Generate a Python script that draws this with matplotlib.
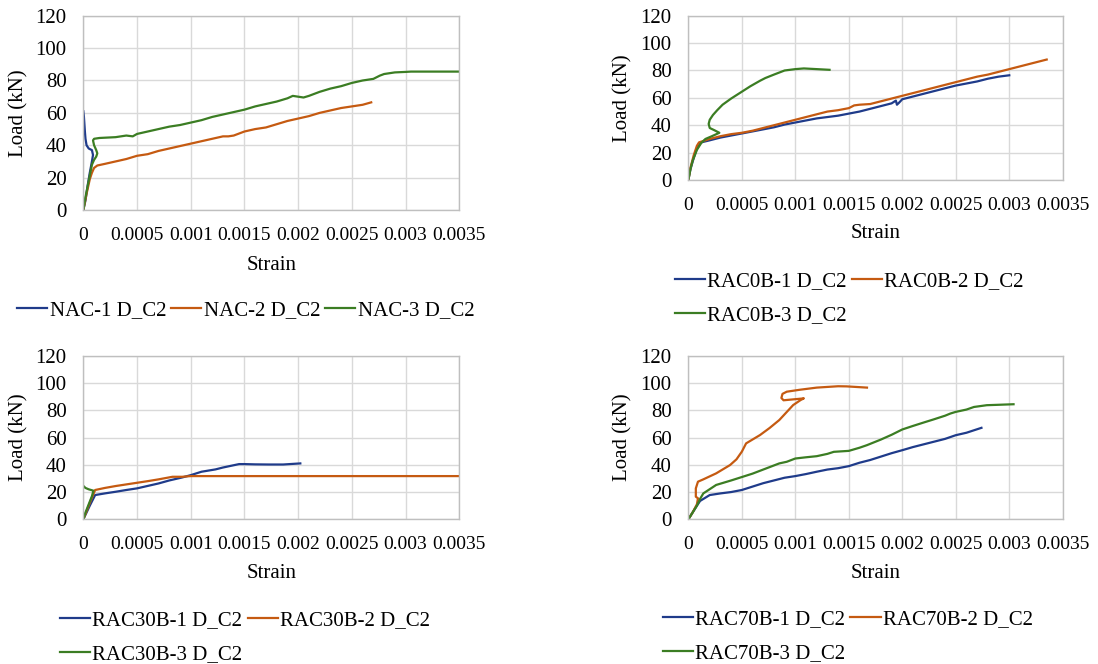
import numpy as np
import matplotlib
matplotlib.use("Agg")
import matplotlib.pyplot as plt

plt.rcParams['font.family'] = ['Liberation Serif', 'DejaVu Serif']
plt.rcParams['font.size'] = 15

# ------------------ Data ------------------

# NAC
nac1_strain = [0, 0.00002, 0.00004, 0.00006, 0.00008, 0.00009, 0.00008, 0.00005, 0.00003, 0.00002,
               0.000015, 0.00001, 0.000005, 0.0]
nac1_load = [0, 6, 15, 23, 30, 34, 37, 38, 40, 44, 48, 53, 58, 61]

nac2_strain = [0, 0.00003, 0.00006, 0.00008, 0.0001, 0.00013, 0.0002, 0.0003, 0.0004, 0.0005, 0.0006,
               0.0007, 0.0008, 0.0009, 0.001, 0.0011, 0.0012, 0.0013, 0.00135, 0.0014, 0.0015, 0.0016,
               0.0017, 0.0018, 0.0019, 0.002, 0.0021, 0.0022, 0.0023, 0.0024, 0.0025, 0.0026, 0.00268]
nac2_load = [0, 10, 19, 23, 26, 27.5, 28.5, 30, 31.5, 33.5, 34.5, 36.5, 38, 39.5, 41, 42.5, 44, 45.5,
             45.5, 46, 48.5, 50, 51, 53, 55, 56.5, 58, 60, 61.5, 63, 64, 65, 66.5]

nac3_strain = [0, 0.00002, 0.00005, 0.00008, 0.0001, 0.00012, 0.00013, 0.00012, 0.0001, 0.00009, 0.0001,
               0.00015, 0.0003, 0.0004, 0.00046, 0.0005, 0.0006, 0.0007, 0.0008, 0.0009, 0.001, 0.0011,
               0.0012, 0.0013, 0.0014, 0.0015, 0.0016, 0.0017, 0.0018, 0.0019, 0.00195, 0.002, 0.00205,
               0.0021, 0.0022, 0.0023, 0.0024, 0.0025, 0.0026, 0.0027, 0.00276, 0.0028, 0.0029, 0.003,
               0.00305, 0.0035]
nac3_load = [0, 8, 18, 28, 31, 33, 35, 37, 40, 43, 44, 44.5, 45, 46, 45.5, 47, 48.5, 50, 51.5, 52.5, 54,
             55.5, 57.5, 59, 60.5, 62, 64, 65.5, 67, 69, 70.5, 70, 69.5, 70.5, 73, 75, 76.5, 78.5, 80,
             81, 83, 84, 85, 85.3, 85.5, 85.5]

# RAC0B
rac0b1_strain = [0, 0.00002, 0.00005, 0.00008, 0.00012, 0.0002, 0.0003, 0.0004, 0.0005, 0.0006, 0.0007,
                 0.0008, 0.0009, 0.001, 0.0011, 0.0012, 0.0013, 0.0014, 0.0015, 0.0016, 0.0017, 0.0018,
                 0.0019, 0.00194, 0.00195, 0.00197, 0.002, 0.0021, 0.0022, 0.0023, 0.0024, 0.0025,
                 0.0026, 0.0027, 0.0028, 0.0029, 0.003]
rac0b1_load = [0, 8, 16, 23, 27.5, 29, 31, 32.5, 34, 35.5, 37, 38.5, 40.5, 42, 43.5, 45, 46, 47, 48.5,
               50, 52, 54, 56, 58, 55, 56.5, 59, 61, 63, 65, 67, 69, 70.5, 72, 74, 75.5, 76.5]

rac0b2_strain = [0, 0.00002, 0.00005, 0.00008, 0.0001, 0.0002, 0.0003, 0.0004, 0.0005, 0.0006, 0.0007,
                 0.0008, 0.0009, 0.001, 0.0011, 0.0012, 0.0013, 0.0014, 0.0015, 0.00155, 0.0016,
                 0.0017, 0.0018, 0.0019, 0.002, 0.0021, 0.0022, 0.0023, 0.0024, 0.0025, 0.0026, 0.0027,
                 0.0028, 0.0029, 0.003, 0.0031, 0.0032, 0.0033, 0.00335]
rac0b2_load = [0, 9, 18, 25, 27.5, 30, 32, 33.5, 34.5, 36, 38, 40, 42, 44, 46, 48, 50, 51, 52.5, 54.5,
               55, 55.5, 57.5, 59.5, 61.5, 63.5, 65.5, 67.5, 69.5, 71.5, 73.5, 75.5, 77, 79, 81, 83,
               85, 87, 88]

rac0b3_strain = [0, 0.00002, 0.00004, 0.00008, 0.00012, 0.00016, 0.00022, 0.00029, 0.00024, 0.0002,
                 0.00019, 0.0002, 0.00023, 0.00027, 0.00032, 0.0004, 0.00049, 0.00058, 0.00067,
                 0.00072, 0.0008, 0.0009, 0.001, 0.00108, 0.0012, 0.00132]
rac0b3_load = [0, 8, 14, 22, 27, 30, 32, 34.5, 36.5, 38, 41, 44, 47.5, 51, 55, 59.5, 64, 68.5, 72.5,
               74.5, 77, 80, 81, 81.5, 81, 80.5]

# RAC30B
rac30b1_strain = [0, 0.00003, 0.00006, 0.00011, 0.0002, 0.0003, 0.0004, 0.0005, 0.0006, 0.0007, 0.0008,
                  0.00092, 0.001, 0.0011, 0.00123, 0.0013, 0.00145, 0.0015, 0.0016, 0.00173, 0.00186,
                  0.00202]
rac30b1_load = [0, 5, 10, 17.8, 19, 20.2, 21.5, 22.7, 24.5, 26.3, 28.5, 30.7, 32.4, 34.9, 36.6, 38,
                40.5, 40.5, 40.3, 40.2, 40.2, 41]

rac30b2_strain = [0, 0.00003, 0.00007, 0.00011, 0.0002, 0.0003, 0.0004, 0.0005, 0.0006, 0.0007,
                  0.00083, 0.00092, 0.001, 0.0011, 0.0035]
rac30b2_load = [0, 6, 14, 21.5, 23, 24.4, 25.6, 26.8, 28, 29.3, 31.2, 31.2, 31.7, 31.7, 31.7]

rac30b3_strain = [0, 0.00002, 0.00005, 0.00008, 0.000094, 0.00005, 0.00002, 0.0]
rac30b3_load = [0, 5, 11, 17, 21, 22, 23, 24.5]

# RAC70B
rac70b1_strain = [0, 0.00004, 0.00008, 0.00011, 0.0002, 0.0003, 0.0004, 0.0005, 0.0006, 0.0007, 0.0008,
                  0.0009, 0.001, 0.0011, 0.0012, 0.0013, 0.0014, 0.0015, 0.0016, 0.0017, 0.0018,
                  0.0019, 0.002, 0.0021, 0.0022, 0.0023, 0.0024, 0.0025, 0.0026, 0.00274]
rac70b1_load = [0, 5, 10, 13.5, 17.8, 19, 20, 21.5, 24, 26.5, 28.5, 30.5, 31.7, 33.2, 34.9, 36.5,
                37.5, 39, 41.5, 43.5, 46, 48.5, 50.7, 53, 55, 57, 59, 61.7, 63.5, 67.1]

rac70b2_strain = [0, 0.00004, 0.00008, 0.00009, 0.00007, 0.00007, 0.00009, 0.00014, 0.00026, 0.00039,
                  0.00045, 0.0005, 0.00054, 0.00067, 0.00076, 0.00085, 0.00098, 0.00105, 0.00108,
                  0.00089, 0.00087, 0.00088, 0.00092, 0.00104, 0.0012, 0.0014, 0.00148, 0.00167]
rac70b2_load = [0, 5, 11, 15.4, 16.6, 22.7, 27.6, 29.3, 33.7, 39.8, 44, 49.6, 55.7, 61.8, 67, 72.8,
                83.8, 87.5, 88.7, 87.3, 89, 92, 93.6, 95, 96.6, 97.6, 97.5, 96.6]

rac70b3_strain = [0, 0.00004, 0.00008, 0.00011, 0.00014, 0.00026, 0.0004, 0.0005, 0.0006, 0.00073,
                  0.00085, 0.00092, 0.001, 0.0011, 0.0012, 0.0013, 0.00136, 0.0015, 0.0016, 0.00167,
                  0.0018, 0.0019, 0.002, 0.0021, 0.0022, 0.00229, 0.0024, 0.00245, 0.0025, 0.0026,
                  0.00267, 0.00279, 0.0029, 0.00304]
rac70b3_load = [0, 5, 10, 15, 19, 25.2, 28.5, 31, 33.5, 37.4, 41, 42.2, 44.6, 45.5, 46.3, 48,
                49.5, 50.2, 52.5, 54.4, 58.5, 62, 65.9, 68.5, 71, 73.2, 76, 77.6, 78.8, 80.5, 82.4,
                83.7, 84, 84.4]

x_ticks = [0, 0.0005, 0.001, 0.0015, 0.002, 0.0025, 0.003, 0.0035]
x_tick_labels = ["0", "0.0005", "0.001", "0.0015", "0.002", "0.0025", "0.003", "0.0035"]
y_ticks = [0, 20, 40, 60, 80, 100, 120]

colors = ['#1F3B8A', '#C55A11', '#3B7D23']

panels = [
    # axes rect, legend anchor, legend columns, xlabel offset, ylabel offset
    dict(rect=[0.0759, 0.6837, 0.3424, 0.2926], leg=(0.0157, 0.547), ncol=3, xl=-0.283, yl=-0.171,
         series=[(nac1_strain, nac1_load, "NAC-1 D_C2"),
                 (nac2_strain, nac2_load, "NAC-2 D_C2"),
                 (nac3_strain, nac3_load, "NAC-3 D_C2")]),
    dict(rect=[0.6269, 0.7289, 0.3410, 0.2474], leg=(0.6146, 0.591), ncol=2, xl=-0.323, yl=-0.175,
         series=[(rac0b1_strain, rac0b1_load, "RAC0B-1 D_C2"),
                 (rac0b2_strain, rac0b2_load, "RAC0B-2 D_C2"),
                 (rac0b3_strain, rac0b3_load, "RAC0B-3 D_C2")]),
    dict(rect=[0.0759, 0.2179, 0.3424, 0.2464], leg=(0.0547, 0.081), ncol=2, xl=-0.334, yl=-0.171,
         series=[(rac30b1_strain, rac30b1_load, "RAC30B-1 D_C2"),
                 (rac30b2_strain, rac30b2_load, "RAC30B-2 D_C2"),
                 (rac30b3_strain, rac30b3_load, "RAC30B-3 D_C2")]),
    dict(rect=[0.6269, 0.2179, 0.3410, 0.2464], leg=(0.6037, 0.082), ncol=2, xl=-0.334, yl=-0.175,
         series=[(rac70b1_strain, rac70b1_load, "RAC70B-1 D_C2"),
                 (rac70b2_strain, rac70b2_load, "RAC70B-2 D_C2"),
                 (rac70b3_strain, rac70b3_load, "RAC70B-3 D_C2")]),
]

fig = plt.figure(figsize=(10.98, 6.64), dpi=100)

for p in panels:
    ax = fig.add_axes(p['rect'])
    for (s, l, name), c in zip(p['series'], colors):
        ax.plot(s, l, color=c, lw=1.6, label=name)

    ax.set_xlim(0, 0.0035)
    ax.set_ylim(0, 120)
    ax.set_xticks(x_ticks)
    ax.set_xticklabels(x_tick_labels)
    ax.set_yticks(y_ticks)
    ax.tick_params(length=0, pad=12)
    ax.tick_params(axis='x', labelsize=14)
    ax.tick_params(axis='y', labelsize=15)
    ax.grid(True, color='#D9D9D9', lw=1)
    ax.set_axisbelow(True)
    for sp in ax.spines.values():
        sp.set_color('#BFBFBF')
        sp.set_linewidth(1)

    ax.set_xlabel("Strain", fontsize=15, va='center')
    ax.xaxis.set_label_coords(0.5, p['xl'])
    ax.set_ylabel("Load (kN)", fontsize=15, va='center')
    ax.yaxis.set_label_coords(p['yl'], 0.5)

    # matplotlib fills legend columns first, Excel fills rows first
    handles, labels = ax.get_legend_handles_labels()
    order = [0, 1, 2] if p['ncol'] == 3 else [0, 2, 1]
    ax.legend([handles[i] for i in order], [labels[i] for i in order],
              loc='upper left', bbox_to_anchor=p['leg'], bbox_transform=fig.transFigure,
              ncol=p['ncol'], frameon=False, fontsize=15, handlelength=1.45,
              handletextpad=0.1, columnspacing=0.25, borderpad=0, borderaxespad=0,
              labelspacing=0.7)

fig.savefig("out.png", dpi=100)
